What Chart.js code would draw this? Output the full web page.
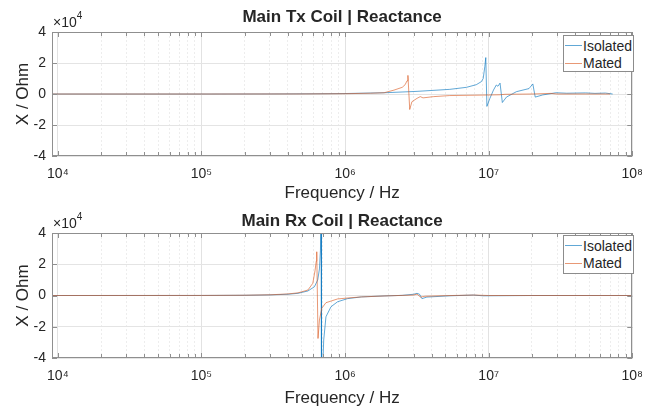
<!DOCTYPE html>
<html>
<head>
<meta charset="utf-8">
<script src="https://cdn.jsdelivr.net/npm/chart.js@4.4.1/dist/chart.umd.min.js"></script>
<style>
html,body{margin:0;padding:0;background:#fff;overflow:hidden}
body{width:653px;height:412px;position:relative;font-family:"Liberation Sans",Arial,sans-serif}
.panel{position:absolute;left:0;width:653px;height:206px}
.panel canvas{display:block}
.legend{position:absolute;left:563px;width:71px;border:1px solid #8c8c8c;background:#fff;font-size:14px;color:#262626;box-sizing:border-box;padding-top:1px}
.legend .row{display:flex;align-items:center;height:17.6px;white-space:nowrap}
.legend .sw{display:inline-block;width:17px;height:0;border-top:1px solid;margin:0 1px 0 1px}
</style>
</head>
<body>
<div class="panel" style="top:0"><canvas id="tx" width="653" height="206"></canvas></div>
<div class="panel" style="top:204px"><canvas id="rx" width="653" height="206"></canvas></div>
<div class="legend" id="leg-tx" style="top:35px;height:37px"></div>
<div class="legend" id="leg-rx" style="top:235px;height:39px"></div>
<script>
// series
const seriesNames = ['Isolated', 'Mated'];
const seriesColors = ['rgba(0,114,189,0.62)', 'rgba(217,83,25,0.6)'];

// x ticks / labels
const decades = [1e4, 1e5, 1e6, 1e7, 1e8];
const decadeLabels = ['10\u2074', '10\u2075', '10\u2076', '10\u2077', '10\u2078'];
const yTicks = [-4e4, -2e4, 0, 2e4, 4e4];
const xMin = 9.1e3, xMax = 1e8;

// Main Tx coil, reactance in Ohm
const txIsoFreq = [9.1e3, 3e4, 1e5, 3e5, 6e5, 1e6, 1.87e6, 3.17e6, 5.36e6, 7e6, 8.2e6, 8.9e6, 9.16e6, 9.4e6, 9.55e6,
  9.72e6, 1.02e7, 1.08e7, 1.13e7, 1.16e7, 1.2e7, 1.245e7, 1.33e7, 1.56e7, 1.91e7, 2.03e7, 2.11e7, 2.38e7, 2.94e7,
  3.5e7, 4.73e7, 5.5e7, 6.5e7, 7.3e7];
const txIso = [0, 0, 0, 50, 150, 300, 800, 1700, 3000, 4300, 6000, 8000, 10000, 17600, 23500,
  -8000, -2800, 2500, 5800, 5000, 7000, -5500, -2000, 1500, 3500, 6500, -2000, -600, 800,
  500, 700, 400, 600, 0];
const txMatFreq = [9.1e3, 1e5, 5e5, 1e6, 1.5e6, 1.87e6, 2.19e6, 2.5e6, 2.62e6, 2.7e6, 2.74e6, 2.82e6, 2.92e6, 3.17e6,
  3.34e6, 3.49e6, 4.13e6, 5.36e6, 9.16e6, 1.2e7, 1.3e7, 2e7, 2.72e7, 3e7, 5e7, 7e7];
const txMat = [0, 0, 50, 200, 500, 800, 2500, 4300, 6000, 8500, 12000, -10000, -5000, -2800,
  -1700, -2500, -1700, -1000, -700, -500, -200, 0, 400, 0, 0, 0];

// Main Rx coil, reactance in Ohm
const rxIsoFreq = [9.1e3, 1e5, 2e5, 3e5, 4e5, 4.7e5, 5.51e5, 6.12e5, 6.45e5, 6.63e5, 6.74e5, 6.8e5, 6.84e5, 6.87e5,
  6.93e5, 7.1e5, 7.36e5, 7.98e5, 8.87e5, 1.04e6, 1.3e6, 1.87e6, 2.5e6, 3e6, 3.17e6, 3.3e6, 3.43e6, 3.71e6,
  5.36e6, 7.82e6, 9.16e6, 2e7, 5e7, 1e8];
const rxIso = [0, 30, 150, 400, 800, 1400, 2900, 5600, 10000, 17000, 29000, 60000, 90000, -90000,
  -55000, -28500, -13600, -7200, -4000, -2000, -900, -300, 100, 800, 1400, 800, -2000, -1000,
  -200, 300, -200, 0, 0, 0];
const rxMatFreq = [9.1e3, 1e5, 2e5, 3e5, 4e5, 4.7e5, 5.51e5, 5.96e5, 6.18e5, 6.3e5, 6.35e5, 6.48e5, 6.63e5, 6.88e5,
  7.36e5, 8.87e5, 1.04e6, 1.3e6, 1.87e6, 3e6, 3.17e6, 3.35e6, 3.6e6, 5e6, 7.82e6, 1e7, 2e7, 5e7, 1e8];
const rxMat = [0, 40, 180, 450, 1000, 1700, 3500, 7800, 16000, 22000, 28000, -27500, -15700, -8200,
  -4600, -2200, -1600, -900, -300, 300, 900, -1000, -500, -100, 300, 0, 0, 0, 0];

const ink = '#262626';
const family = '"Liberation Sans", Arial, sans-serif';

const xTicks = [];
for (let e = 4; e < 8; e++) for (let m = 1; m <= 9; m++) xTicks.push(m * 10 ** e);
xTicks.push(1e8);

// box, inward ticks, title and exponent label (matlab style)
const framePlugin = {
  id: 'frame',
  afterDraw(chart, args, opts) {
    const { ctx, chartArea: a, scales: { x, y } } = chart;
    ctx.save();
    ctx.strokeStyle = '#8f8f8f';
    ctx.lineWidth = 1;
    ctx.strokeRect(Math.round(a.left) + 0.5, Math.round(a.top) + 0.5, Math.round(a.width) - 1, Math.round(a.height) - 1);
    ctx.beginPath();
    xTicks.forEach(v => {
      if (v < xMin) return;
      const px = Math.round(x.getPixelForValue(v)) + 0.5;
      const len = decades.includes(v) ? 5 : 4;
      ctx.moveTo(px, a.bottom); ctx.lineTo(px, a.bottom - len);
      ctx.moveTo(px, a.top); ctx.lineTo(px, a.top + len);
    });
    yTicks.forEach(v => {
      const py = Math.round(y.getPixelForValue(v)) + 0.5;
      ctx.moveTo(a.left, py); ctx.lineTo(a.left + 5, py);
      ctx.moveTo(a.right, py); ctx.lineTo(a.right - 5, py);
    });
    ctx.stroke();

    ctx.fillStyle = ink;
    ctx.font = 'bold 17px ' + family;
    ctx.textAlign = 'center';
    ctx.textBaseline = 'middle';
    ctx.fillText(opts.title, (a.left + a.right) / 2, opts.titleY);

    ctx.textAlign = 'left';
    ctx.textBaseline = 'alphabetic';
    ctx.font = '14px ' + family;
    ctx.fillText('\u00d710', a.left + 1, a.top - 5);
    const w = ctx.measureText('\u00d710').width;
    ctx.font = '10px ' + family;
    ctx.fillText('4', a.left + 1 + w, a.top - 13);
    ctx.restore();
  }
};

function makeChart(id, title, isoF, iso, matF, mat, lay) {
  const pts = (f, v) => f.map((fx, i) => ({ x: fx, y: v[i] }));
  return new Chart(document.getElementById(id), {
    type: 'line',
    data: {
      datasets: [
        { label: seriesNames[0], data: pts(isoF, iso), borderColor: seriesColors[0], borderWidth: 1, pointRadius: 0, order: 1 },
        { label: seriesNames[1], data: pts(matF, mat), borderColor: seriesColors[1], borderWidth: 1, pointRadius: 0, order: 0 }
      ]
    },
    options: {
      responsive: false,
      animation: false,
      devicePixelRatio: 1,
      parsing: false,
      layout: { padding: { top: lay.top, right: 15, left: 0, bottom: 0 } },
      plugins: {
        legend: { display: false },
        tooltip: { enabled: false },
        frame: { title: title, titleY: lay.titleY }
      },
      scales: {
        x: {
          type: 'logarithmic', min: xMin, max: xMax,
          afterBuildTicks: s => { s.ticks = xTicks.map(v => ({ value: v, major: decades.includes(v) })); },
          afterFit: s => { s.height = lay.xh; },
          ticks: {
            autoSkip: false, maxRotation: 0, padding: 10, color: ink, font: { size: 14, family },
            callback: v => { const i = decades.indexOf(v); return i < 0 ? '' : decadeLabels[i]; }
          },
          grid: { drawTicks: false, color: c => (c.tick && decades.includes(c.tick.value)) ? '#e2e2e2' : '#ededed' },
          border: { display: false, dash: c => (c.tick && !decades.includes(c.tick.value)) ? [2, 2] : [] },
          title: { display: true, text: 'Frequency / Hz', color: ink, font: { size: 17, family }, padding: { top: 0, bottom: lay.xt } }
        },
        y: {
          min: -4e4, max: 4e4,
          afterBuildTicks: s => { s.ticks = yTicks.map(v => ({ value: v })); },
          afterFit: s => { s.width = 52; },
          ticks: { padding: 6, color: ink, font: { size: 14, family }, callback: v => String(v / 1e4) },
          grid: { drawTicks: false, color: '#e4e4e4' },
          border: { display: false },
          title: { display: true, text: 'X / Ohm', color: ink, font: { size: 17, family }, padding: { top: 13, bottom: 0 } }
        }
      }
    },
    plugins: [framePlugin]
  });
}

function buildLegend(id, chart) {
  document.getElementById(id).innerHTML = chart.data.datasets.map(d =>
    `<div class="row"><span class="sw" style="border-color:${d.borderColor}"></span>${d.label}</div>`).join('');
}

const txChart = makeChart('tx', 'Main Tx Coil | Reactance', txIsoFreq, txIso, txMatFreq, txMat,
  { top: 32, xh: 50, xt: 2, titleY: 17.5 });
const rxChart = makeChart('rx', 'Main Rx Coil | Reactance', rxIsoFreq, rxIso, rxMatFreq, rxMat,
  { top: 29, xh: 52, xt: 1, titleY: 17 });
buildLegend('leg-tx', txChart);
buildLegend('leg-rx', rxChart);
</script>
</body>
</html>
